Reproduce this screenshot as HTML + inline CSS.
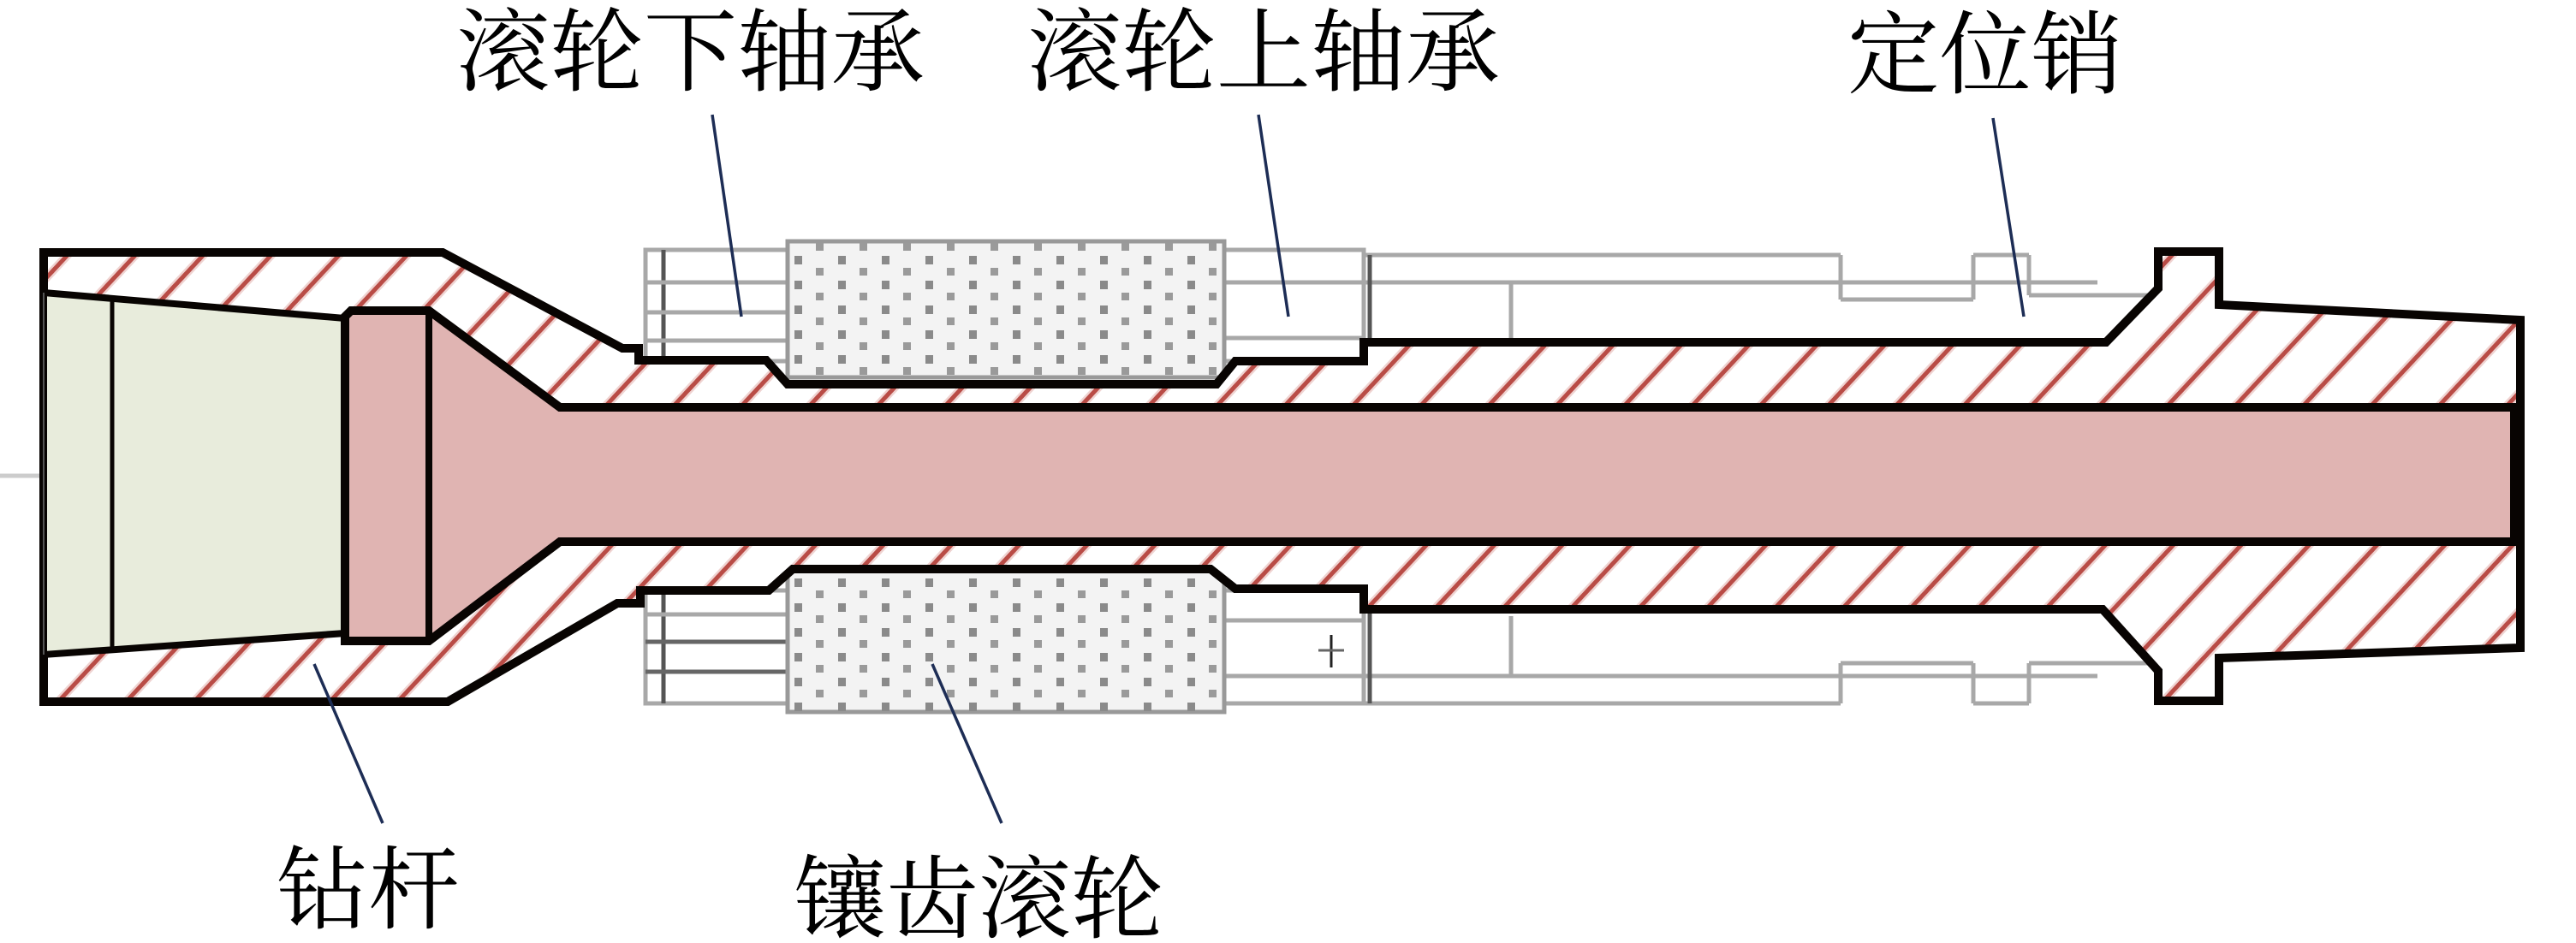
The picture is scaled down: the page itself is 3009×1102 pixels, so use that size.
<!DOCTYPE html>
<html><head><meta charset="utf-8"><style>
html,body{margin:0;padding:0;background:#fff;}
svg{display:block;}
text{font-family:"Liberation Serif","Noto Serif CJK SC",serif;font-size:106px;fill:#000;}
</style></head><body>
<svg width="3009" height="1102" viewBox="0 0 3009 1102" xmlns="http://www.w3.org/2000/svg">
<defs>
<pattern id="h" patternUnits="userSpaceOnUse" width="58" height="58" patternTransform="rotate(43)">
<rect x="0" y="0" width="58" height="58" fill="#fff"/>
<rect x="24" y="0" width="10" height="58" fill="#efd3d1"/>
<rect x="26.5" y="0" width="5" height="58" fill="#b94c46"/>
</pattern>
<pattern id="dots" patternUnits="userSpaceOnUse" width="51" height="29" x="920" y="293">
<rect x="8" y="6" width="9" height="10" fill="#8a8a8a"/>
<rect x="33" y="20" width="9" height="9" fill="#9a9a9a"/>
</pattern>
</defs>

<!-- gray bearing/background drawings (top) -->
<g fill="none" stroke="#a8a8a8" stroke-width="5">
<rect x="754" y="292" width="839" height="130"/>
<line x1="775" y1="292" x2="775" y2="422" stroke="#555"/>
<line x1="754" y1="330" x2="920" y2="330"/>
<line x1="754" y1="365" x2="920" y2="365"/>
<line x1="754" y1="398" x2="920" y2="398"/>
<line x1="1430" y1="330" x2="1593" y2="330"/>
<line x1="1430" y1="395" x2="1593" y2="395"/>
<line x1="1593" y1="298" x2="2150" y2="298"/>
<line x1="1593" y1="330" x2="2450" y2="330"/>
<line x1="2150" y1="298" x2="2150" y2="350"/>
<line x1="2150" y1="350" x2="2305" y2="350"/>
<line x1="2305" y1="350" x2="2305" y2="298"/>
<line x1="2305" y1="298" x2="2370" y2="298"/>
<line x1="2370" y1="298" x2="2370" y2="345"/>
<line x1="2370" y1="345" x2="2510" y2="345"/>
<line x1="1765" y1="330" x2="1765" y2="400"/>
<line x1="1600" y1="298" x2="1600" y2="400" stroke="#555"/>
<line x1="1430" y1="292" x2="1430" y2="422"/>
<line x1="0" y1="556" x2="51" y2="556" stroke="#ccc"/>
</g>
<rect x="920" y="282" width="510" height="159" fill="#f3f3f3" stroke="#999" stroke-width="5"/>
<rect x="920" y="282" width="510" height="159" fill="url(#dots)"/>
<!-- gray bottom -->
<g fill="none" stroke="#a8a8a8" stroke-width="5">
<rect x="754" y="690" width="839" height="132"/>
<line x1="775" y1="690" x2="775" y2="822" stroke="#555"/>
<line x1="754" y1="750" x2="920" y2="750" stroke="#666"/>
<line x1="754" y1="785" x2="920" y2="785" stroke="#666"/>
<line x1="754" y1="718" x2="920" y2="718"/>
<line x1="1430" y1="725" x2="1593" y2="725"/>
<line x1="1430" y1="790" x2="1593" y2="790"/>
<line x1="1593" y1="822" x2="2150" y2="822"/>
<line x1="1593" y1="790" x2="2450" y2="790"/>
<line x1="2150" y1="822" x2="2150" y2="775"/>
<line x1="2150" y1="775" x2="2305" y2="775"/>
<line x1="2305" y1="775" x2="2305" y2="822"/>
<line x1="2305" y1="822" x2="2370" y2="822"/>
<line x1="2370" y1="822" x2="2370" y2="775"/>
<line x1="2370" y1="775" x2="2510" y2="775"/>
<line x1="1765" y1="720" x2="1765" y2="790"/>
<line x1="1600" y1="712" x2="1600" y2="822" stroke="#555"/>
<line x1="1430" y1="690" x2="1430" y2="822"/>
</g>
<line x1="1555" y1="742" x2="1555" y2="780" stroke="#222" stroke-width="3"/>
<line x1="1540" y1="760" x2="1570" y2="760" stroke="#666" stroke-width="3"/>
<rect x="920" y="663" width="510" height="169" fill="#f3f3f3" stroke="#999" stroke-width="5"/>
<rect x="920" y="663" width="510" height="169" fill="url(#dots)"/>

<!-- hatched body -->
<polygon fill="url(#h)" stroke="#080402" stroke-width="10" stroke-linejoin="miter"
points="51,295 517,295 727,407 746,407 746,421 895,421 920,449 1421,449 1443,422 1593,422 1593,400 2460,400 2521,337 2521,294 2592,294 2592,356 2944,374 2944,757 2592,769 2592,819 2521,819 2521,784 2456,712 1593,712 1593,688 1443,688 1414,665 926,665 898,690 748,690 748,705 721,705 523,820 51,820"/>

<!-- green drill rod -->
<polygon fill="#e8ecdc" stroke="#080402" stroke-width="8" points="51,342 403,372 403,740 51,765"/>
<line x1="51" y1="342" x2="51" y2="765" stroke="#555" stroke-width="2"/>
<line x1="131" y1="350" x2="131" y2="760" stroke="#080402" stroke-width="5"/>
<!-- pink inner -->
<polygon fill="#e0b4b2" stroke="#080402" stroke-width="10" stroke-linejoin="miter"
points="410,363 501,363 654,476 2937,476 2937,633 654,633 501,749 403,749 403,370"/>
<line x1="501" y1="363" x2="501" y2="749" stroke="#080402" stroke-width="8"/>

<!-- leaders -->
<g stroke="#1d2d55" stroke-width="3.5">
<line x1="832" y1="134" x2="866" y2="370"/>
<line x1="1470" y1="134" x2="1505" y2="370"/>
<line x1="2328" y1="138" x2="2364" y2="370"/>
<line x1="367" y1="776" x2="447" y2="962"/>
<line x1="1089" y1="776" x2="1170" y2="962"/>
</g>

<!-- labels -->
<text x="533" y="98" textLength="547" lengthAdjust="spacingAndGlyphs">滚轮下轴承</text>
<text x="1200" y="98" textLength="552" lengthAdjust="spacingAndGlyphs">滚轮上轴承</text>
<text x="2158" y="101" textLength="322" lengthAdjust="spacingAndGlyphs">定位销</text>
<text x="323" y="1077" textLength="214" lengthAdjust="spacingAndGlyphs">钻杆</text>
<text x="927" y="1088" textLength="432" lengthAdjust="spacingAndGlyphs">镶齿滚轮</text>
</svg>
</body></html>
